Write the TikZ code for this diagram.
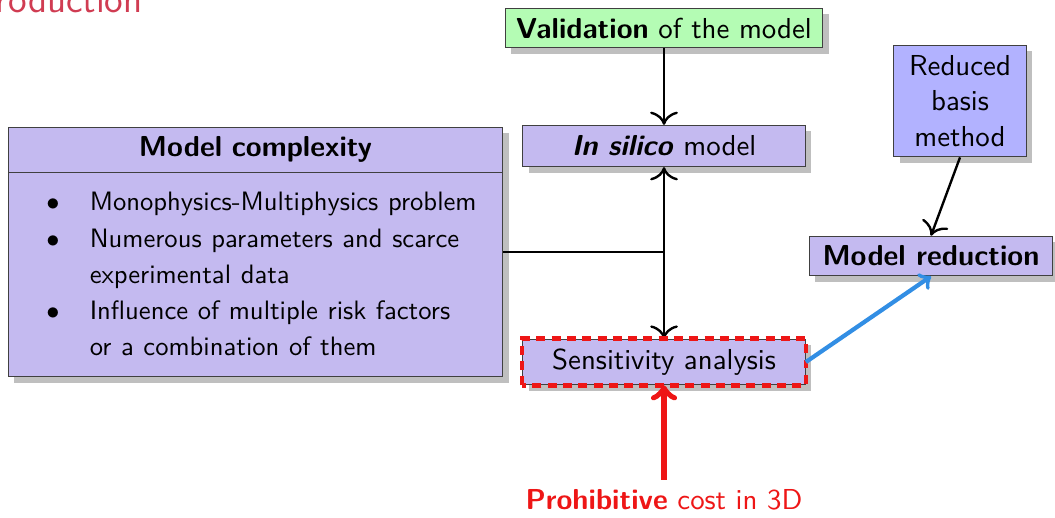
\documentclass[tikz,border=0pt,11pt]{standalone}
\usetikzlibrary{shapes.multipart, shadows, arrows, arrows.meta}
\renewcommand{\familydefault}{\sfdefault}
\definecolor{boxfill}{RGB}{196,186,240}
\definecolor{basisfill}{RGB}{178,178,255}
\definecolor{validfill}{RGB}{180,252,180}
\definecolor{costred}{RGB}{238,22,22}
\definecolor{reducblue}{RGB}{50,142,228}
\definecolor{titlered}{RGB}{208,60,82}
\tikzstyle{block} = [rectangle, draw=black!75, fill=boxfill, text centered, drop shadow={shadow xshift=0.08cm, shadow yshift=-0.08cm, fill=black!25, opacity=1}]
\tikzstyle{arrow} = [line width=0.9pt,->,>={To[scale=1.4]}]
\tikzstyle{redarrow} = [line width=2.4pt,->,>=to,draw=costred]
\tikzstyle{bluearrow} = [line width=1.6pt,->,>=to,draw=reducblue]
\tikzstyle{costdash} = [line width=1.7pt, draw=costred, dash pattern=on 3.4pt off 2.4pt]
\newcommand{\cbullet}{\hspace*{0.31cm}\makebox[0.58cm][l]{$\bullet$}}
\newcommand{\cindent}{\hspace*{0.89cm}}

\begin{document}
\begin{tikzpicture}[x=0.01333cm, y=-0.01333cm]
\useasboundingbox (0,0) rectangle (1055,517);
\clip (0,0) rectangle (1055,517);
\node (ttl) [anchor=base east, inner sep=0, text=titlered, font=\Large] at (143,12) {Introduction};

\node (valid) [block, fill=validfill, minimum width=4.23cm, minimum height=0.52cm] at (664,28) {\textbf{Validation} of the model};
\node (insilico) [block, minimum width=3.77cm, minimum height=0.55cm] at (664,146) {\textbf{\textit{In silico}} model};
\node (sens) [block, minimum width=3.77cm, minimum height=0.59cm] at (664,362) {Sensitivity analysis};
\node (modred) [block, minimum width=3.25cm, minimum height=0.52cm] at (931,256) {\textbf{Model reduction}};
\node (basis) [block, fill=basisfill, minimum width=1.77cm, minimum height=1.49cm, align=center] at (960,101) {Reduced\\basis\\method};
\node (cmplx) [block, rectangle split, rectangle split parts=2, text width=6.2cm, inner xsep=0.2cm, inner ysep=0.12cm, align=left] at (255.5,252)
  {\makebox[\linewidth]{\textbf{Model complexity}}
   \nodepart{two}\fontsize{10.1}{13.75}\selectfont
   \rule{0pt}{0.39cm}\cbullet Monophysics-Multiphysics problem\\
   \cbullet Numerous parameters and scarce\\
   \cindent experimental data\\
   \cbullet Influence of multiple risk factors\\
   \cindent or a combination of them\rule[-0.16cm]{0pt}{0.1cm}};
\node (cost) [text=costred] at (664,500) {\textbf{Prohibitive} cost in 3D};

\coordinate (jn) at (insilico |- cmplx.east);
\draw [line width=0.9pt] (cmplx.east) -- (jn);
\draw [arrow] (jn) -- (insilico);
\draw [arrow] (jn) -- (sens);
\draw [arrow] (valid) -- (insilico);
\draw [arrow] (basis.south) -- (modred.north);
\draw [costdash] (sens.south west) rectangle (sens.north east);
\draw [bluearrow] (sens.east) -- (modred.south);
\draw [redarrow] (cost.north) -- (sens.south);
\end{tikzpicture}
\end{document}
